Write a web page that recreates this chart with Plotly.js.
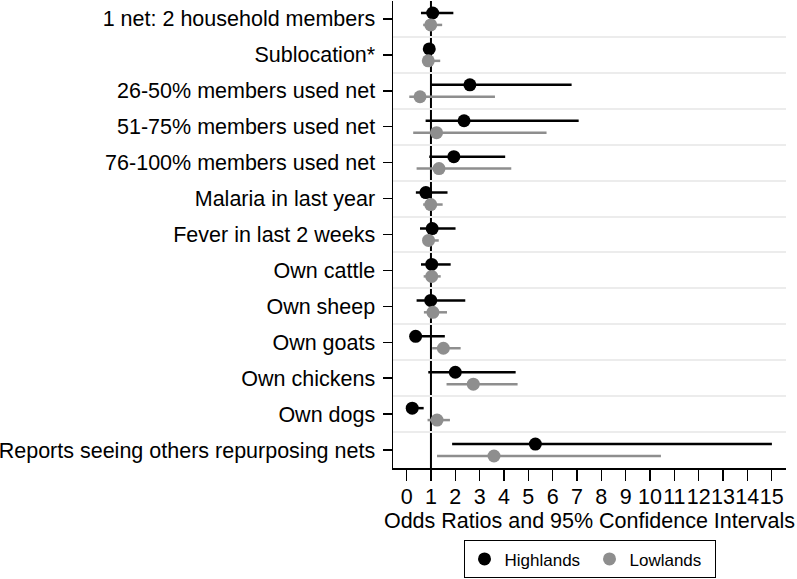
<!DOCTYPE html>
<html>
<head>
<meta charset="utf-8">
<script src="https://cdn.plot.ly/plotly-3.0.1.min.js"></script>
<style>html,body{margin:0;padding:0;background:#fff;}#chart{width:797px;height:579px;}</style>
</head>
<body>
<div id="chart"></div>
<script>
const categories = [
  "1 net: 2 household members",
  "Sublocation*",
  "26-50% members used net",
  "51-75% members used net",
  "76-100% members used net",
  "Malaria in last year",
  "Fever in last 2 weeks",
  "Own cattle",
  "Own sheep",
  "Own goats",
  "Own chickens",
  "Own dogs",
  "Reports seeing others repurposing nets"
];
const highOR = [1.07, 0.93, 2.60, 2.36, 1.94, 0.79, 1.05, 1.03, 0.99, 0.37, 2.00, 0.23, 5.29];
const highLo = [0.59, 0.88, 1.00, 0.78, 0.93, 0.38, 0.55, 0.59, 0.41, 0.14, 0.89, 0.12, 1.87];
const highHi = [1.92, 0.98, 6.78, 7.07, 4.05, 1.68, 2.01, 1.81, 2.41, 1.57, 4.48, 0.70, 15.01];
const lowOR  = [0.99, 0.89, 0.55, 1.23, 1.33, 0.99, 0.90, 1.03, 1.08, 1.51, 2.74, 1.25, 3.59];
const lowLo  = [0.68, 0.72, 0.11, 0.27, 0.41, 0.68, 0.68, 0.70, 0.71, 1.05, 1.64, 0.86, 1.25];
const lowHi  = [1.46, 1.38, 3.63, 5.75, 4.30, 1.48, 1.32, 1.40, 1.66, 2.22, 4.56, 1.78, 10.45];
const xTicks = [0,1,2,3,4,5,6,7,8,9,10,11,12,13,14,15];

const pos = categories.map((c, i) => i + 1);
const off = 0.166;
const FONT = "Liberation Sans, Arial, Helvetica, sans-serif";

function series(name, est, lo, hi, color, shift) {
  return {
    type: "scatter", mode: "markers", name: name,
    x: est,
    y: pos.map(p => p + shift),
    marker: {color: color, size: 13, line: {width: 0}},
    error_x: {
      type: "data", symmetric: false,
      array: hi.map((h, i) => h - est[i]),
      arrayminus: lo.map((l, i) => est[i] - l),
      color: color, thickness: 2.5, width: 0
    },
    hoverinfo: "x+name"
  };
}

const data = [
  series("Highlands", highOR, highLo, highHi, "#000000", -off),
  series("Lowlands", lowOR, lowLo, lowHi, "#8e8e8e", off)
];

const layout = {
  width: 797, height: 579,
  margin: {l: 393, r: 11, t: 1, b: 108, pad: 0},
  paper_bgcolor: "#ffffff", plot_bgcolor: "#ffffff",
  font: {family: FONT, color: "#000000", size: 21},
  showlegend: true,
  xaxis: {
    range: [-0.56, 15.59],
    tickvals: xTicks, ticktext: xTicks.map(String),
    tickangle: 0,
    ticks: "outside", ticklen: 11, tickwidth: 1.5, tickcolor: "#000",
    showline: true, linecolor: "#000", linewidth: 1.5,
    showgrid: false, zeroline: false,
    tickfont: {size: 21.5, family: FONT},
    ticklabelstandoff: -2,
    title: {text: "Odds Ratios and 95% Confidence Intervals", font: {size: 21.5, family: FONT}, standoff: 0}
  },
  yaxis: {
    range: [13.5, 0.5],
    tickvals: pos, ticktext: categories,
    ticks: "outside", ticklen: 9, tickwidth: 1.5, tickcolor: "#000",
    showline: true, linecolor: "#000", linewidth: 1.5,
    showgrid: false, zeroline: false,
    tickfont: {size: 21.5, family: FONT},
    ticklabelstandoff: 3,
    minor: {
      tickmode: "array",
      tickvals: pos.slice(0, -1).map(p => p + 0.5),
      showgrid: true, gridcolor: "#ececec", gridwidth: 2, ticks: ""
    }
  },
  shapes: [{
    type: "line", xref: "x", yref: "paper",
    x0: 1, x1: 1, y0: 0, y1: 1,
    line: {color: "#000", width: 2}, layer: "below"
  }],
  legend: {
    orientation: "h", x: 0.5, xanchor: "center", y: -0.155, yanchor: "top",
    bordercolor: "#000", borderwidth: 1, bgcolor: "#fff",
    font: {size: 17, family: FONT},
    entrywidth: 80
  }
};

Plotly.newPlot("chart", data, layout, {displayModeBar: false, staticPlot: true});
</script>
</body>
</html>
